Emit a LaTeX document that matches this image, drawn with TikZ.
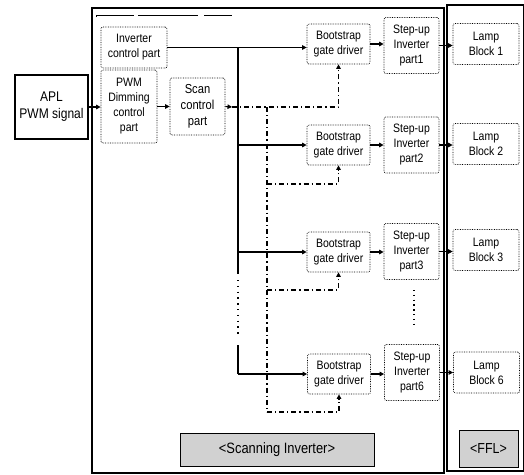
\documentclass[tikz,border=0pt]{standalone}
\usepackage{fontspec}
\setmainfont{Liberation Sans}[FakeStretch=0.86]
\usetikzlibrary{arrows.meta}
\begin{document}
\begin{tikzpicture}[x=1pt,y=-1pt,
  box/.style={draw, densely dotted, line width=0.7pt, rounded corners=2pt, align=center, inner sep=0pt,
    font=\fontsize{12.2}{15}\selectfont},
  bsbox/.style={box, minimum width=63pt, minimum height=40pt},
  subox/.style={box, minimum width=55pt, minimum height=56pt},
  lbbox/.style={box, minimum width=66pt, minimum height=41pt},
  frame/.style={draw, line width=1.4pt},
  label/.style={draw, line width=0.8pt, fill=black!18, inner sep=0pt},
  arr/.style={line width=1.1pt, -{Triangle[length=4.5pt,width=4.5pt]}},
  dd/.style={line width=1.2pt, dash pattern=on 5pt off 3pt on 1.2pt off 3pt},
  ddarr/.style={dd, -{Triangle[length=4.5pt,width=4.5pt]}}
]
\useasboundingbox (0,0) rectangle (524,474);
% frames
\draw[frame] (92,8) rectangle (444,473);
\draw[frame] (447,5) -- (523.5,5) -- (523.5,471) -- (447,471) -- cycle;
\draw[line width=0.5pt, dash pattern=on 40pt off 4pt on 60pt off 6pt on 30pt off 5pt] (96,17) -- (96,15) -- (232,15);

% nodes
\node[draw, line width=1.3pt, minimum width=73pt, minimum height=64pt, align=center, inner sep=0pt,
  font=\fontsize{14}{17}\selectfont] (apl) at (51.5,107) {APL\\PWM signal};
\node[box, minimum width=66pt, minimum height=41pt] (invc) at (134,47.5) {Inverter\\control part};
\node[box, minimum width=56pt, minimum height=73pt] (pwm) at (129,106.5) {PWM\\Dimming\\control\\part};
\node[box, minimum width=55pt, minimum height=57pt, font=\fontsize{13}{16}\selectfont] (scan) at (197.5,106.5) {Scan\\control\\part};

\node[bsbox] (bs1) at (338.5,44) {Bootstrap\\gate driver};
\node[bsbox] (bs2) at (338.5,145) {Bootstrap\\gate driver};
\node[bsbox] (bs3) at (338.5,252) {Bootstrap\\gate driver};
\node[bsbox] (bs6) at (339,374) {Bootstrap\\gate driver};

\node[subox] (su1) at (411.5,45.5) {Step-up\\Inverter\\part1};
\node[subox] (su2) at (411.5,145) {Step-up\\Inverter\\part2};
\node[subox] (su3) at (411.5,251.5) {Step-up\\Inverter\\part3};
\node[subox] (su6) at (412,372.5) {Step-up\\Inverter\\part6};

\node[lbbox] (lb1) at (486,44) {Lamp\\Block 1};
\node[lbbox] (lb2) at (486,144) {Lamp\\Block 2};
\node[lbbox] (lb3) at (486,250) {Lamp\\Block 3};
\node[lbbox] (lb6) at (486.5,372.5) {Lamp\\Block 6};

\node[label, minimum width=194pt, minimum height=33pt, font=\fontsize{15}{17}\selectfont] (sl) at (277,449.5) {<Scanning Inverter>};
\node[label, minimum width=59pt, minimum height=37pt, font=\fontsize{14.5}{17}\selectfont] (fl) at (488.5,448.5) {<FFL>};

% coordinates
\coordinate (bt) at (238,47.5);
\coordinate (b2) at (238,145);
\coordinate (b3) at (238,252);
\coordinate (bgap1) at (238,274);
\coordinate (bgap2) at (238,280);
\coordinate (bgap3) at (238,335);
\coordinate (bgap4) at (238,345);
\coordinate (b6) at (238,374);
\coordinate (sc) at (232,107);
\coordinate (d1) at (267,107);
\coordinate (d2) at (267,184);
\coordinate (d3) at (267,290);
\coordinate (d6) at (267,412);
\coordinate (v1) at (414,290);
\coordinate (v2) at (414,326);

% arrows left
\draw[arr] (apl.east) -- (pwm.west |- apl.east);
\draw[arr] (pwm.east) -- (scan.west |- pwm.east);
\draw[arr] (scan.east) -- (sc);

% solid bus
\draw[arr] (invc.east) -- (bs1.west |- invc.east);
\draw[line width=1.1pt] (bt) -- (bgap1);
\draw[line width=1.3pt, dash pattern=on 1.3pt off 4.5pt] (bgap2) -- (bgap3);
\draw[line width=1.1pt] (bgap4) -- (b6);
\draw[arr] (b2) -- (bs2.west |- b2);
\draw[arr] (b3) -- (bs3.west |- b3);
\draw[arr] (b6) -- (bs6.west |- b6);

% dash-dot scan lines
\draw[ddarr] (sc) -- (bs1.south |- sc) -- (bs1.south);
\draw[dd] (d1) -- (d6);
\draw[ddarr] (d2) -- (bs2.south |- d2) -- (bs2.south);
\draw[ddarr] (d3) -- (bs3.south |- d3) -- (bs3.south);
\draw[ddarr] (d6) -- (bs6.south |- d6) -- (bs6.south);

% bootstrap -> step-up -> lamp
\foreach \i in {1,2,3,6}{
  \draw[arr] (bs\i.east) -- (su\i.west |- bs\i.east);
  \draw[arr] (su\i.east) -- (lb\i.west |- su\i.east);
}
\draw[line width=1.3pt, dash pattern=on 1.3pt off 3.5pt] (v1) -- (v2);
\end{tikzpicture}
\end{document}
